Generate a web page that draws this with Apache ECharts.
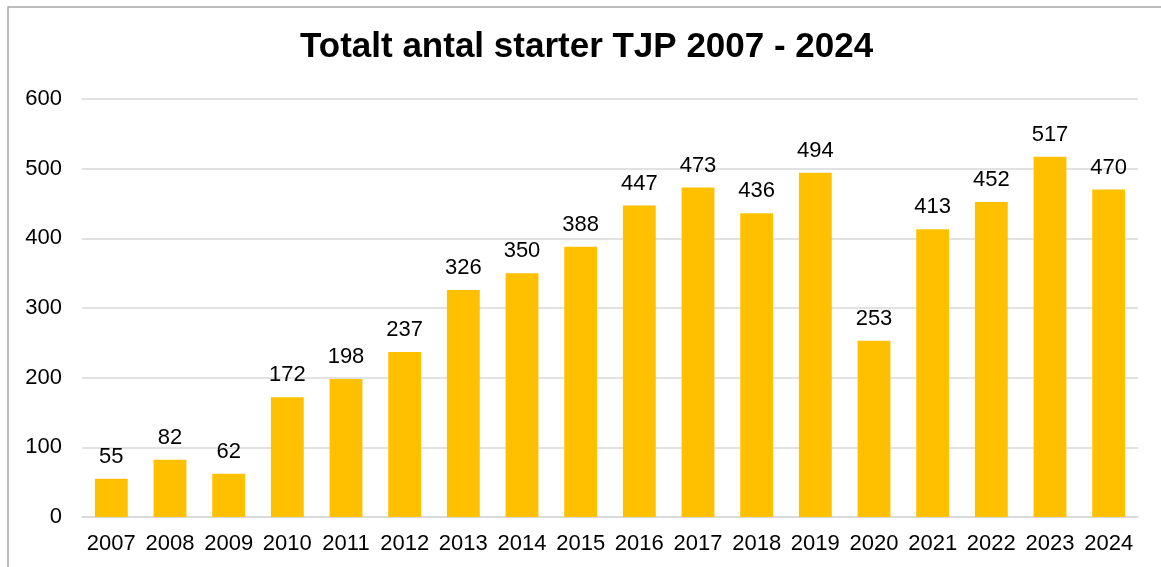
<!DOCTYPE html>
<html><head><meta charset="utf-8">
<script src="https://cdn.jsdelivr.net/npm/echarts@6/dist/echarts.min.js"></script>
<style>html,body{margin:0;padding:0;background:#fff}#c{width:1161px;height:567px}</style>
</head><body><div id="c"></div>
<script>
const titleText = "Totalt antal starter TJP 2007 - 2024";
const categories = ["2007","2008","2009","2010","2011","2012","2013","2014","2015","2016","2017","2018","2019","2020","2021","2022","2023","2024"];
const values = [55,82,62,172,198,237,326,350,388,447,473,436,494,253,413,452,517,470];
const yTicks = [0,100,200,300,400,500,600];

const chart = echarts.init(document.getElementById('c'), null, {renderer:'canvas'});
const font = "'Liberation Sans', Arial, sans-serif";
chart.setOption({
  animation:false,
  textStyle:{fontFamily:font},
  graphic:[{type:'rect',shape:{x:8,y:7,width:1200,height:600},style:{fill:'none',stroke:'#a6a6a6',lineWidth:1.5},silent:true}],
  title:{text:titleText,left:295,top:25,textStyle:{fontFamily:font,fontSize:35,fontWeight:'bold',color:'#000'}},
  grid:{left:82,right:23,top:99,bottom:50,containLabel:false},
  xAxis:{type:'category',data:categories,axisTick:{show:false},
    axisLine:{lineStyle:{color:'#d9d9d9',width:1.5}},
    axisLabel:{color:'#000',fontSize:22,fontFamily:font,margin:16,interval:0}},
  yAxis:{type:'value',min:yTicks[0],max:yTicks[yTicks.length-1],interval:100,
    axisLine:{show:false},axisTick:{show:false},
    splitLine:{lineStyle:{color:'#d9d9d9',width:1.5}},
    axisLabel:{color:'#000',fontSize:22,fontFamily:font,margin:20}},
  series:[{type:'bar',data:values,barWidth:'56%',itemStyle:{color:'#FFC000'},
    label:{show:true,position:'top',distance:11,color:'#000',fontSize:22,fontFamily:font}}]
});
</script></body></html>
